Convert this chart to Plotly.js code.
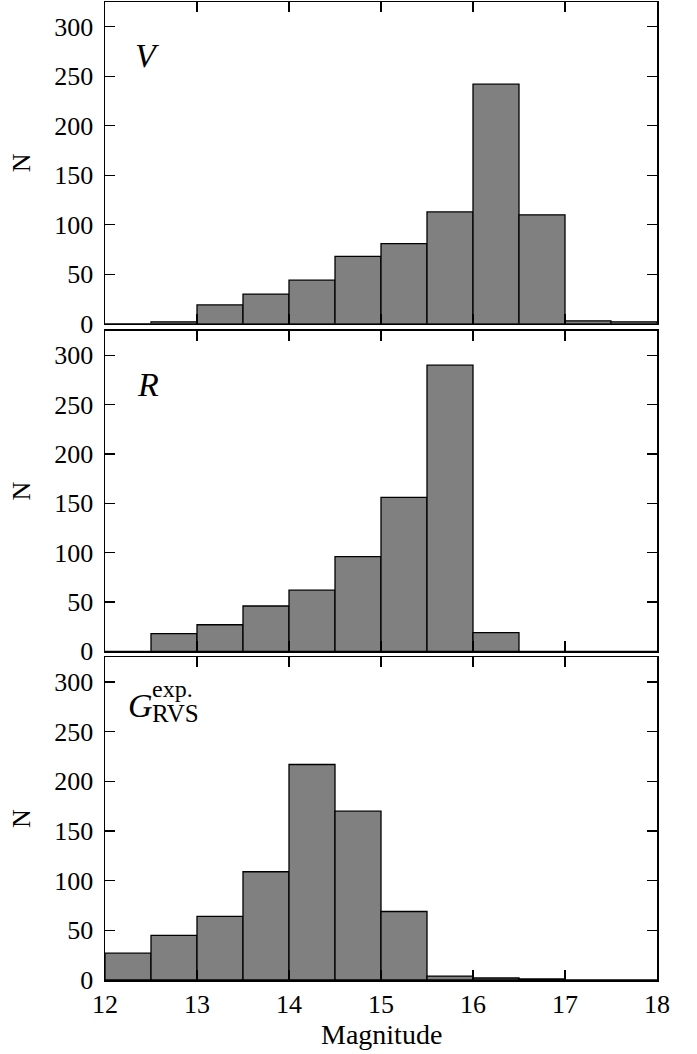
<!DOCTYPE html>
<html>
<head>
<meta charset="utf-8">
<script src="https://cdn.plot.ly/plotly-3.0.1.min.js"></script>
<style>html,body{margin:0;padding:0;background:#fff;}#plot{width:697px;height:1054px;}</style>
</head>
<body>
<div id="plot"></div>
<script>
// Bin left edges (magnitude), bin width 0.5
const binStarts = [12.0, 12.5, 13.0, 13.5, 14.0, 14.5, 15.0, 15.5, 16.0, 16.5, 17.0, 17.5];
const binWidth = 0.5;
// Counts per bin
const countsV = [0, 2, 19, 30, 44, 68, 81, 113, 242, 110, 3, 2];
const countsR = [0, 18, 27, 46, 62, 96, 156, 290, 19, 0, 0, 0];
const countsG = [27, 45, 64, 109, 217, 170, 69, 4, 2, 1, 0, 0];
const xTicks = [12, 13, 14, 15, 16, 17, 18];
const yTicks = [0, 50, 100, 150, 200, 250, 300];

const FONT = "Liberation Serif";

function barTrace(y, xa, ya) {
  return {
    type: 'bar', x: binStarts, y: y, width: binWidth, offset: 0,
    xaxis: xa, yaxis: ya,
    marker: {color: '#808080', line: {color: '#000', width: 1.3}},
    hoverinfo: 'skip', showlegend: false
  };
}

const data = [
  barTrace(countsV, 'x', 'y'),
  barTrace(countsR, 'x2', 'y2'),
  barTrace(countsG, 'x3', 'y3')
];

function xax(anchor, showLabels) {
  return {
    anchor: anchor, range: [12, 18], tickvals: xTicks, ticks: 'inside', ticklen: 10,
    tickwidth: 1.2, tickcolor: '#000', mirror: 'ticks', showline: true, linecolor: '#000',
    linewidth: 1.5, showgrid: false, zeroline: false, showticklabels: showLabels,
    ticklabelstandoff: 0,
    tickfont: {family: FONT, size: 26, color: '#000'}
  };
}
function yax(anchor, domain) {
  return {
    anchor: anchor, domain: domain, range: [0, 325], tickvals: yTicks, ticks: 'inside',
    ticklen: 10, tickwidth: 1.2, tickcolor: '#000', mirror: 'ticks', showline: true,
    linecolor: '#000', linewidth: 1.5, showgrid: false, zeroline: false,
    ticklabelstandoff: 5,
    tickfont: {family: FONT, size: 26, color: '#000'},
    title: {text: 'N', font: {family: FONT, size: 26, color: '#000'}, standoff: 16}
  };
}

const x1 = xax('y', false);
const x2 = xax('y2', false); x2.matches = 'x';
const x3 = xax('y3', true); x3.matches = 'x';

const layout = {
  width: 697, height: 1054,
  margin: {l: 105, r: 40, t: 2, b: 74},
  paper_bgcolor: '#fff', plot_bgcolor: '#fff',
  bargap: 0, barmode: 'overlay',
  font: {family: FONT, color: '#000'},
  xaxis: x1, xaxis2: x2, xaxis3: x3,
  yaxis: yax('x', [0.671, 1]),
  yaxis2: yax('x2', [0.336, 0.664]),
  yaxis3: yax('x3', [0, 0.33]),
  annotations: [
    {xref: 'paper', yref: 'paper', x: 0.5, y: -0.056, yanchor: 'middle', text: 'Magnitude',
     showarrow: false, font: {family: FONT, size: 28, color: '#000'}},
    {xref: 'x', yref: 'y', x: 12.46, y: 271, text: '<i>V</i>', showarrow: false,
     font: {family: FONT, size: 34, color: '#000'}},
    {xref: 'x2', yref: 'y2', x: 12.47, y: 270, text: '<i>R</i>', showarrow: false,
     font: {family: FONT, size: 34, color: '#000'}},
    {xref: 'x3', yref: 'y3', x: 12.39, y: 276, text: '<i>G</i>', showarrow: false,
     font: {family: FONT, size: 34, color: '#000'}},
    {xref: 'x3', yref: 'y3', x: 12.49, y: 293, xanchor: 'left', text: 'exp.', showarrow: false,
     font: {family: FONT, size: 24, color: '#000'}},
    {xref: 'x3', yref: 'y3', x: 12.49, y: 268, xanchor: 'left', text: 'RVS', showarrow: false,
     font: {family: FONT, size: 25, color: '#000'}}
  ]
};

Plotly.newPlot('plot', data, layout, {displayModeBar: false, staticPlot: true});
</script>
</body>
</html>
